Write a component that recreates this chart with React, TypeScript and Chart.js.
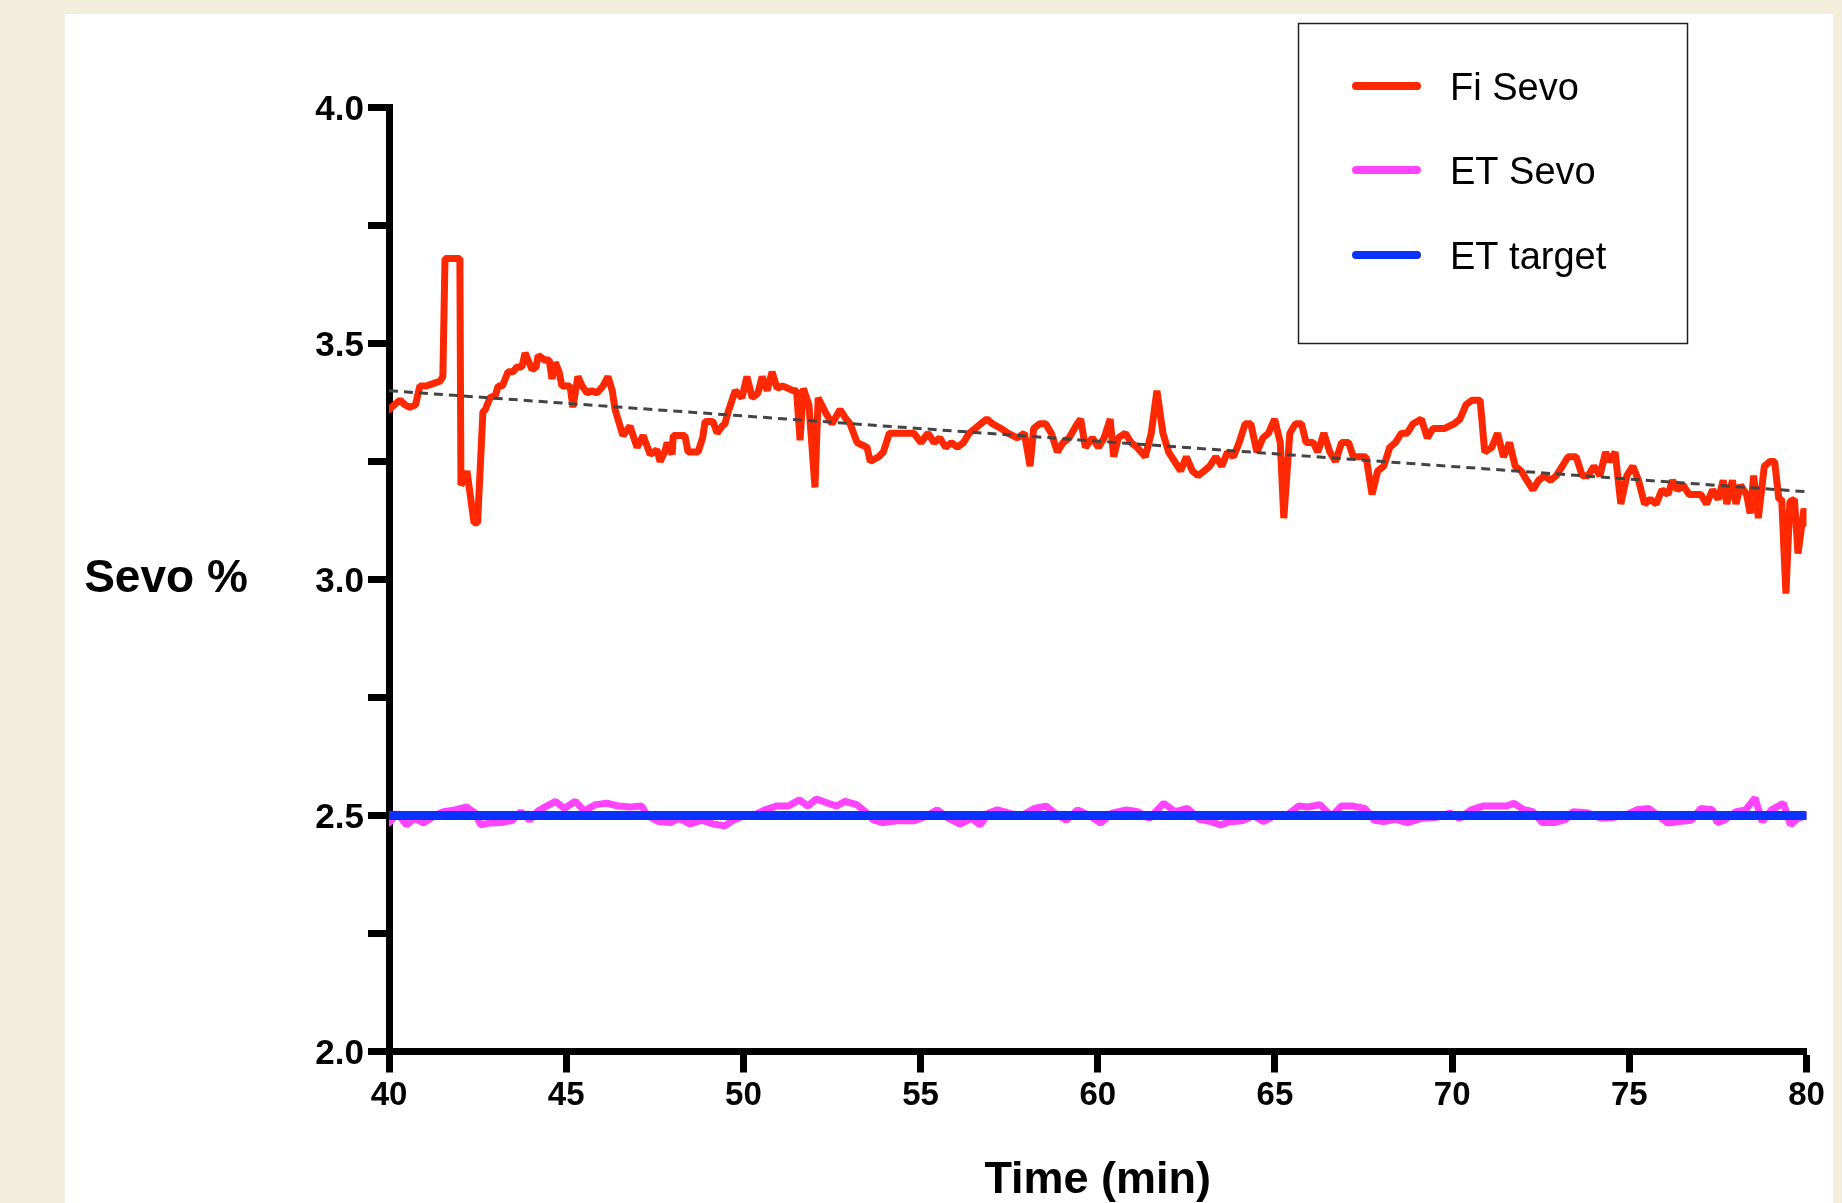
import React, { useEffect, useRef } from "react";
import { Chart, registerables } from "chart.js";

Chart.register(...registerables);

// ---------- DATA ----------
const fiTime = [
  40.0, 40.15, 40.31, 40.45, 40.59, 40.75, 40.87, 41.05, 41.24, 41.44, 41.52, 41.58, 42.0, 42.03, 42.12, 42.2, 42.4, 42.5,
  42.65, 42.72, 42.85, 43.0, 43.08, 43.2, 43.36, 43.5, 43.61, 43.75, 43.84, 43.95, 44.04, 44.15, 44.21, 44.3, 44.4, 44.52,
  44.6, 44.69, 44.8, 44.88, 45.0, 45.11, 45.19, 45.33, 45.45, 45.59, 45.72, 45.87, 46.04, 46.18, 46.3, 46.38, 46.5, 46.6,
  46.8, 47.0, 47.17, 47.37, 47.47, 47.56, 47.65, 47.78, 47.85, 47.99, 48.02, 48.2, 48.35, 48.44, 48.6, 48.72, 48.85, 48.92,
  49.14, 49.26, 49.4, 49.48, 49.57, 49.77, 49.96, 50.1, 50.25, 50.41, 50.53, 50.67, 50.81, 50.95, 51.1, 51.26, 51.4, 51.5,
  51.6, 51.69, 51.85, 52.02, 52.11, 52.31, 52.5, 52.73, 52.9, 53.01, 53.21, 53.35, 53.49, 53.58, 53.82, 53.95, 54.12, 54.28,
  54.55, 54.81, 55.01, 55.21, 55.38, 55.54, 55.71, 55.87, 56.04, 56.21, 56.37, 56.54, 56.7, 56.87, 57.03, 57.27, 57.46, 57.73,
  57.93, 58.09, 58.19, 58.36, 58.53, 58.69, 58.86, 59.02, 59.19, 59.42, 59.52, 59.65, 59.85, 60.02, 60.18, 60.35, 60.45, 60.58,
  60.78, 60.94, 61.11, 61.34, 61.51, 61.67, 61.84, 62.0, 62.17, 62.34, 62.5, 62.67, 62.83, 63.0, 63.16, 63.33, 63.5, 63.66,
  63.83, 63.99, 64.16, 64.32, 64.49, 64.66, 64.82, 64.99, 65.15, 65.25, 65.42, 65.58, 65.75, 65.88, 66.08, 66.21, 66.38, 66.55,
  66.71, 66.88, 67.08, 67.21, 67.41, 67.57, 67.74, 67.9, 68.07, 68.24, 68.4, 68.57, 68.73, 68.9, 69.13, 69.3, 69.46, 69.79,
  70.06, 70.22, 70.39, 70.56, 70.79, 70.92, 71.12, 71.28, 71.45, 71.62, 71.78, 71.95, 72.11, 72.28, 72.44, 72.61, 72.78, 72.94,
  73.11, 73.27, 73.5, 73.67, 73.84, 74.0, 74.17, 74.33, 74.43, 74.6, 74.76, 74.93, 75.1, 75.26, 75.43, 75.59, 75.76, 75.92,
  76.09, 76.22, 76.36, 76.52, 76.69, 76.85, 77.02, 77.18, 77.35, 77.51, 77.65, 77.75, 77.91, 78.01, 78.14, 78.31, 78.41, 78.51,
  78.64, 78.81, 78.97, 79.1, 79.22, 79.3, 79.42, 79.53, 79.66, 79.76, 79.93, 80.0,
];
const fiSevo = [
  3.36, 3.37, 3.38, 3.37, 3.365, 3.37, 3.41, 3.41, 3.415, 3.42, 3.43, 3.68, 3.68, 3.2, 3.21, 3.23, 3.12, 3.12,
  3.355, 3.36, 3.385, 3.39, 3.41, 3.41, 3.44, 3.44, 3.45, 3.45, 3.48, 3.46, 3.445, 3.45, 3.475, 3.47, 3.465, 3.465,
  3.425, 3.46, 3.44, 3.41, 3.41, 3.41, 3.365, 3.43, 3.41, 3.395, 3.4, 3.395, 3.41, 3.43, 3.4, 3.36, 3.33, 3.305,
  3.325, 3.28, 3.305, 3.265, 3.27, 3.275, 3.25, 3.27, 3.29, 3.265, 3.305, 3.305, 3.305, 3.27, 3.27, 3.27, 3.3, 3.335,
  3.335, 3.31, 3.325, 3.33, 3.355, 3.4, 3.385, 3.43, 3.385, 3.395, 3.43, 3.4, 3.44, 3.405, 3.41, 3.405, 3.4, 3.4,
  3.295, 3.405, 3.37, 3.195, 3.385, 3.355, 3.33, 3.36, 3.34, 3.33, 3.29, 3.285, 3.28, 3.25, 3.26, 3.27, 3.31, 3.31,
  3.31, 3.31, 3.29, 3.31, 3.29, 3.3, 3.28, 3.29, 3.28, 3.29, 3.31, 3.32, 3.33, 3.34, 3.33, 3.32, 3.31, 3.3,
  3.31, 3.24, 3.32, 3.33, 3.33, 3.31, 3.27, 3.29, 3.3, 3.33, 3.34, 3.28, 3.3, 3.28, 3.3, 3.34, 3.26, 3.3,
  3.31, 3.29, 3.28, 3.26, 3.31, 3.4, 3.31, 3.27, 3.25, 3.23, 3.26, 3.23, 3.22, 3.23, 3.24, 3.26, 3.24, 3.27,
  3.26, 3.29, 3.33, 3.33, 3.27, 3.3, 3.31, 3.34, 3.29, 3.13, 3.31, 3.33, 3.33, 3.29, 3.29, 3.27, 3.31, 3.27,
  3.25, 3.29, 3.29, 3.26, 3.26, 3.26, 3.18, 3.23, 3.24, 3.28, 3.29, 3.31, 3.31, 3.33, 3.34, 3.3, 3.32, 3.32,
  3.33, 3.34, 3.37, 3.38, 3.38, 3.27, 3.28, 3.31, 3.26, 3.29, 3.24, 3.23, 3.21, 3.19, 3.21, 3.22, 3.21, 3.22,
  3.24, 3.26, 3.26, 3.22, 3.22, 3.24, 3.22, 3.27, 3.25, 3.27, 3.16, 3.22, 3.24, 3.21, 3.16, 3.17, 3.16, 3.19,
  3.18, 3.21, 3.19, 3.2, 3.18, 3.18, 3.18, 3.16, 3.19, 3.17, 3.21, 3.16, 3.21, 3.16, 3.2, 3.18, 3.14, 3.22,
  3.13, 3.24, 3.25, 3.25, 3.17, 3.17, 2.97, 3.165, 3.17, 3.055, 3.15, 3.12,
];

const etTime = [
  40.0, 40.24, 40.49, 40.73, 40.97, 41.3, 41.54, 41.86, 42.19, 42.43, 42.59, 42.83, 43.16, 43.48, 43.72, 43.97, 44.21, 44.45,
  44.7, 44.94, 45.26, 45.51, 45.83, 46.15, 46.48, 46.8, 47.13, 47.29, 47.61, 47.94, 48.18, 48.5, 48.83, 49.15, 49.47, 49.72,
  49.96, 50.28, 50.61, 50.93, 51.26, 51.58, 51.82, 52.06, 52.39, 52.63, 52.87, 53.2, 53.44, 53.68, 53.93, 54.33, 54.82, 55.14,
  55.47, 55.79, 56.11, 56.44, 56.68, 56.92, 57.17, 57.49, 57.81, 58.22, 58.54, 58.79, 59.11, 59.43, 59.76, 60.08, 60.4, 60.81,
  61.13, 61.46, 61.86, 62.19, 62.53, 62.86, 63.2, 63.46, 63.73, 64.07, 64.4, 64.67, 65.0, 65.33, 65.67, 65.93, 66.27, 66.6,
  66.87, 67.2, 67.54, 67.8, 68.07, 68.4, 68.74, 69.14, 69.54, 69.94, 70.21, 70.54, 70.87, 71.21, 71.54, 71.74, 72.01, 72.28,
  72.54, 72.88, 73.21, 73.41, 73.81, 74.21, 74.55, 74.88, 75.21, 75.55, 75.81, 76.08, 76.41, 76.75, 77.02, 77.35, 77.48, 77.68,
  78.02, 78.28, 78.55, 78.75, 79.01, 79.35, 79.55, 79.75, 80.0,
];
const etSevo = [
  2.484, 2.505, 2.48, 2.494, 2.484, 2.5, 2.508, 2.512, 2.518, 2.505, 2.48, 2.484, 2.485, 2.49, 2.508, 2.49, 2.51, 2.52,
  2.53, 2.515, 2.53, 2.51, 2.523, 2.526, 2.52, 2.518, 2.52, 2.5, 2.487, 2.485, 2.494, 2.482, 2.49, 2.482, 2.478, 2.49,
  2.498, 2.5, 2.512, 2.52, 2.52, 2.533, 2.52, 2.535, 2.526, 2.52, 2.53, 2.523, 2.508, 2.49, 2.485, 2.489, 2.489, 2.498,
  2.512, 2.494, 2.482, 2.494, 2.48, 2.505, 2.512, 2.505, 2.498, 2.515, 2.52, 2.505, 2.49, 2.512, 2.5, 2.484, 2.505, 2.512,
  2.508, 2.494, 2.526, 2.508, 2.515, 2.492, 2.487, 2.48, 2.487, 2.489, 2.5, 2.487, 2.5, 2.5, 2.52, 2.518, 2.523, 2.498,
  2.52, 2.52, 2.515, 2.49, 2.487, 2.492, 2.485, 2.494, 2.496, 2.505, 2.494, 2.512, 2.52, 2.52, 2.52, 2.526, 2.513, 2.508,
  2.485, 2.485, 2.492, 2.508, 2.506, 2.494, 2.496, 2.5, 2.512, 2.515, 2.5, 2.484, 2.487, 2.49, 2.515, 2.512, 2.485, 2.49,
  2.508, 2.512, 2.537, 2.487, 2.512, 2.526, 2.48, 2.494, 2.5,
];

const targetTime = [40, 80];
const targetValue = [2.5, 2.5];

const trendTime = [40, 80];
const trendValue = [3.4, 3.186];

const seriesLabels = ["Fi Sevo", "ET Sevo", "ET target"];
const xTitle = "Time (min)";
const yTitle = "Sevo %";

// ---------- STYLE ----------
const FONT = "'Liberation Sans', Arial, Helvetica, sans-serif";
const RED = "#FF2800";
const MAGENTA = "#FF44FF";
const BLUE = "#0A32FF";

const toPoints = (xs: number[], ys: number[]) => xs.map((x, i) => ({ x, y: ys[i] }));

const yTitlePlugin = {
  id: "yTitleHorizontal",
  afterDraw(chart: any, _args: any, opts: any) {
    const { ctx, chartArea } = chart;
    ctx.save();
    ctx.fillStyle = "#000";
    ctx.font = `bold ${opts.size}px ${FONT}`;
    ctx.textAlign = "center";
    ctx.textBaseline = "middle";
    ctx.fillText(opts.text, opts.centerX, (chartArea.top + chartArea.bottom) / 2);
    ctx.restore();
  },
};

const boxLegendPlugin = {
  id: "boxLegend",
  afterDraw(chart: any, _args: any, opts: any) {
    const { ctx } = chart;
    ctx.save();
    ctx.strokeStyle = "#222";
    ctx.lineWidth = 1.5;
    ctx.strokeRect(opts.left, opts.top, opts.width, opts.height);
    const items = chart.data.datasets.filter((d: any) => d.showInLegend);
    items.sort((a: any, b: any) => a.legendIndex - b.legendIndex);
    items.forEach((d: any, i: number) => {
      const y = opts.rows[i];
      ctx.strokeStyle = d.borderColor;
      ctx.lineWidth = 8;
      ctx.lineCap = "round";
      ctx.beginPath();
      ctx.moveTo(opts.lineX1, y);
      ctx.lineTo(opts.lineX2, y);
      ctx.stroke();
      ctx.fillStyle = "#000";
      ctx.font = `${opts.fontSize}px ${FONT}`;
      ctx.textAlign = "left";
      ctx.textBaseline = "middle";
      ctx.fillText(d.label, opts.textX, y + opts.textShift);
    });
    ctx.restore();
  },
};

export default function App() {
  const canvasRef = useRef<HTMLCanvasElement | null>(null);

  useEffect(() => {
    if (!canvasRef.current) return;
    const chart = new Chart(canvasRef.current, {
      type: "line",
      data: {
        datasets: [
          {
            label: seriesLabels[0],
            showInLegend: true,
            legendIndex: 0,
            data: toPoints(fiTime, fiSevo),
            borderColor: RED,
            borderWidth: 7,
            borderCapStyle: "round",
            borderJoinStyle: "bevel",
            pointRadius: 0,
            order: 3,
          } as any,
          {
            label: seriesLabels[1],
            showInLegend: true,
            legendIndex: 1,
            data: toPoints(etTime, etSevo),
            borderColor: MAGENTA,
            borderWidth: 7,
            borderCapStyle: "round",
            borderJoinStyle: "bevel",
            pointRadius: 0,
            order: 2,
          } as any,
          {
            label: seriesLabels[2],
            showInLegend: true,
            legendIndex: 2,
            data: toPoints(targetTime, targetValue),
            borderColor: BLUE,
            borderWidth: 9,
            borderCapStyle: "round",
            pointRadius: 0,
            order: 1,
          } as any,
          {
            label: "trend",
            showInLegend: false,
            data: toPoints(trendTime, trendValue),
            borderColor: "#444444",
            borderWidth: 3,
            borderDash: [9, 6],
            pointRadius: 0,
            order: 0,
          } as any,
        ],
      },
      options: {
        animation: false,
        responsive: false,
        devicePixelRatio: 1,
        events: [],
        layout: { padding: { top: 107.5, right: 35.5, left: 0, bottom: 0 } },
        elements: { line: { tension: 0 } },
        plugins: {
          legend: { display: false },
          tooltip: { enabled: false },
          yTitleHorizontal: { text: yTitle, size: 46, centerX: 166 },
          boxLegend: {
            left: 1298.5,
            top: 23.5,
            width: 389,
            height: 320,
            rows: [86, 170, 255],
            lineX1: 1356,
            lineX2: 1417,
            textX: 1450,
            textShift: 3.5,
            fontSize: 38,
          },
        } as any,
        scales: {
          x: {
            type: "linear",
            min: 40,
            max: 80,
            afterFit: (s: any) => {
              s.height = 151.5;
            },
            ticks: {
              stepSize: 5,
              autoSkip: false,
              maxRotation: 0,
              color: "#000",
              padding: 3.5,
              font: { family: FONT, size: 33, weight: "bold" },
            },
            grid: {
              drawOnChartArea: false,
              drawTicks: true,
              tickLength: 21,
              tickWidth: 7,
              tickColor: "#000",
            },
            border: { display: true, color: "#000", width: 7 },
            title: {
              display: true,
              text: xTitle,
              color: "#000",
              padding: { top: 0, bottom: -4.5 },
              font: { family: FONT, size: 45, weight: "bold" },
            },
          },
          y: {
            type: "linear",
            min: 2,
            max: 4,
            afterFit: (s: any) => {
              s.width = 389;
            },
            ticks: {
              stepSize: 0.25,
              autoSkip: false,
              color: "#000",
              padding: 4,
              labelOffset: 3,
              font: { family: FONT, size: 35, weight: "bold" },
              callback: (v: any) => {
                const n = Number(v);
                return Math.abs(n * 2 - Math.round(n * 2)) < 1e-6 ? n.toFixed(1) : "";
              },
            },
            grid: {
              drawOnChartArea: false,
              drawTicks: true,
              tickLength: 21,
              tickWidth: 7,
              tickColor: "#000",
            },
            border: { display: true, color: "#000", width: 7 },
          },
        },
      },
      plugins: [yTitlePlugin, boxLegendPlugin],
    });
    return () => chart.destroy();
  }, []);

  return (
    <div
      style={{
        position: "fixed",
        left: 0,
        top: 0,
        width: 1842,
        height: 1203,
        background: "#F3EDDC",
        overflow: "hidden",
      }}
    >
      <div
        style={{
          position: "absolute",
          left: 65,
          top: 14,
          width: 1768,
          height: 1189,
          background: "#FFFFFF",
        }}
      />
      <canvas
        ref={canvasRef}
        width={1842}
        height={1203}
        style={{ position: "absolute", left: 0, top: 0, width: 1842, height: 1203, display: "block" }}
      />
    </div>
  );
}
